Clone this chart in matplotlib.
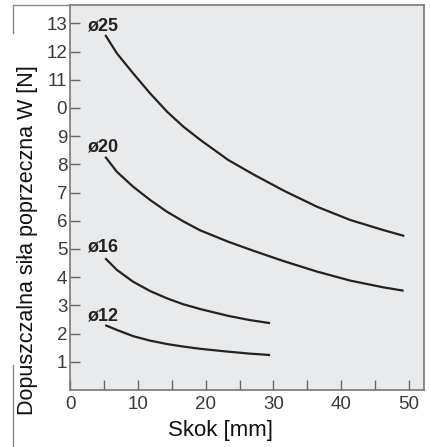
import matplotlib
matplotlib.use("Agg")
import matplotlib.pyplot as plt
from matplotlib.lines import Line2D

plt.rcParams['font.family'] = ['Liberation Sans', 'DejaVu Sans']

# skok [mm] -> dopuszczalna sila [N]
x25 = [5.2, 6.9, 9.3, 11.8, 14.3, 16.7, 19.2, 23.3, 27.0, 31.5, 36.4, 41.3, 46.2, 49.3]
y25 = [12.59, 11.94, 11.23, 10.52, 9.87, 9.34, 8.87, 8.16, 7.65, 7.07, 6.50, 6.03, 5.67, 5.46]
x20 = [5.2, 6.9, 9.3, 11.8, 14.3, 16.7, 19.2, 23.3, 27.0, 31.5, 36.4, 41.3, 46.2, 49.2]
y20 = [8.27, 7.74, 7.21, 6.74, 6.32, 5.98, 5.66, 5.26, 4.94, 4.57, 4.20, 3.88, 3.64, 3.52]
x16 = [5.2, 6.9, 9.3, 11.8, 14.3, 16.7, 19.2, 23.3, 26.5, 29.5]
y16 = [4.67, 4.26, 3.84, 3.51, 3.25, 3.04, 2.87, 2.63, 2.48, 2.37]
x12 = [5.2, 6.9, 9.3, 11.8, 14.3, 16.7, 19.2, 23.3, 26.5, 29.5]
y12 = [2.30, 2.13, 1.91, 1.75, 1.63, 1.54, 1.46, 1.36, 1.29, 1.24]

labels = ['ø25', 'ø20', 'ø16', 'ø12']
label_y = [12.9, 8.6, 5.07, 2.62]

xticks = [0, 10, 20, 30, 40, 50]
yticks = list(range(1, 14))
ytick_labels = ['1', '2', '3', '4', '5', '6', '7', '8', '9', '0', '11', '12', '13']

fig = plt.figure(figsize=(4.30, 4.47), dpi=100)
ax = fig.add_axes([70 / 430, 57 / 447, 354 / 430, 385 / 447])
ax.set_facecolor('#e9eaec')

for xs, ys in [(x25, y25), (x20, y20), (x16, y16), (x12, y12)]:
    ax.plot(xs, ys, color='#222222', lw=1.6, solid_capstyle='butt', solid_joinstyle='round')

for lab, ly in zip(labels, label_y):
    ax.text(2.7, ly, lab, fontsize=13, fontweight='bold', color='#222222',
            ha='left', va='center')

ax.set_xlim(0, 52.2)
ax.set_ylim(0, 13.65)
ax.set_xticks(xticks)
ax.set_xticks(range(5, 51, 10), minor=True)
ax.set_yticks(yticks)
ax.set_yticklabels(ytick_labels)
ax.tick_params(axis='both', direction='in', length=7, width=1, color='#666666',
               labelsize=13.5, labelcolor='#3a3a3a')
ax.tick_params(axis='x', which='minor', direction='in', length=7, width=1, color='#666666')
ax.tick_params(axis='y', pad=2)
ax.tick_params(axis='x', pad=4)

for s in ax.spines.values():
    s.set_color('#777777')
    s.set_linewidth(1.2)

ax.set_xlabel('Skok [mm]', fontsize=16, color='#111111', va='center')
ax.xaxis.set_label_coords(0.424, -0.104)
ax.set_ylabel('Dopuszczalna siła poprzeczna W [N]', fontsize=15.5, color='#111111', va='center')
ax.yaxis.set_label_coords(-0.119, 0.39)

# fragmenty zewnetrznej ramki
fig.add_artist(Line2D([13 / 430, 70 / 430], [442 / 447, 442 / 447], color='#888888', lw=1))
fig.add_artist(Line2D([13 / 430, 13 / 430], [442 / 447, 414 / 447], color='#888888', lw=1))
fig.add_artist(Line2D([13 / 430, 13 / 430], [82 / 447, 0], color='#888888', lw=1))

fig.savefig('out.png', dpi=100)
